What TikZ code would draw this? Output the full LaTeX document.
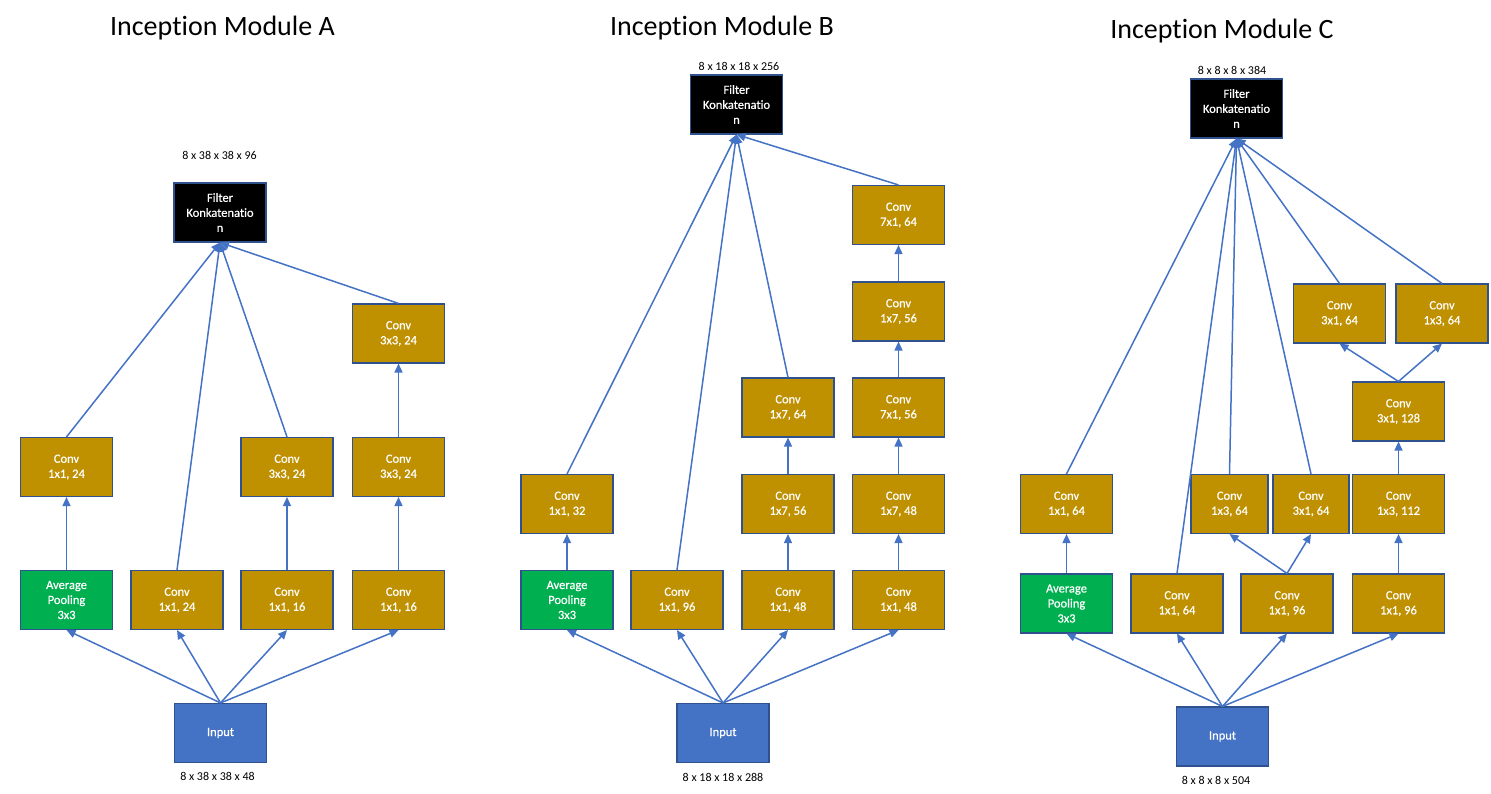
\documentclass[tikz,border=0pt]{standalone}
\usepackage{fontspec}
\setmainfont{Carlito}[Ligatures=NoCommon]
\newfontfamily\boxfont{Carlito}[Ligatures=NoCommon,FakeBold=0.5]
\usetikzlibrary{arrows.meta}
\definecolor{gold}{HTML}{BF9000}
\definecolor{poolgreen}{HTML}{00B050}
\definecolor{inpblue}{HTML}{4472C4}
\definecolor{boxborder}{HTML}{2F528F}
\definecolor{arrblue}{HTML}{4472C4}
\tikzset{
  box/.style={draw=boxborder, line width=1.1pt, minimum width=92pt, minimum height=59pt, inner sep=0pt, align=center, text=white, font=\boxfont\fontsize{12.5}{15}\selectfont},
  conv/.style={box, fill=gold},
  pool/.style={box, fill=poolgreen},
  inp/.style={box, fill=inpblue},
  cat/.style={box, fill=black},
  arr/.style={draw=arrblue, line width=1.5pt, -{Triangle[length=9pt,width=8pt]}},
  title/.style={anchor=base, font=\fontsize{28}{32}\selectfont, inner sep=0pt},
  dims/.style={font=\fontsize{12}{14}\selectfont, inner sep=0pt},
}
\begin{document}
\begin{tikzpicture}[x=1pt,y=-1pt]
\useasboundingbox (0,0) rectangle (1491,794);
% ================= Module A =================
\node[title] (tA) at (222.5,36) {Inception Module A};
\node[dims] (dAtop) at (219.5,155) {8 x 38 x 38 x 96};
\node[cat] (fA) at (220,212.5) {Filter\\Konkatenatio\\n};
\node[conv] (a33top) at (398.5,333.5) {Conv\\3x3, 24};
\node[conv] (a11b) at (66.5,467) {Conv\\1x1, 24};
\node[conv] (a33b) at (287,467) {Conv\\3x3, 24};
\node[conv] (a33c) at (398.5,467) {Conv\\3x3, 24};
\node[pool] (apool) at (66.5,600) {Average\\Pooling\\3x3};
\node[conv] (a11) at (177,600) {Conv\\1x1, 24};
\node[conv] (a16a) at (287,600) {Conv\\1x1, 16};
\node[conv] (a16b) at (398.5,600) {Conv\\1x1, 16};
\node[inp] (inA) at (220.5,733) {Input};
\node[dims] (dAbot) at (217.5,776) {8 x 38 x 38 x 48};
\foreach \t in {apool,a11,a16a,a16b} \draw[arr] (inA.north) -- (\t.south);
\draw[arr] (apool) -- (a11b);
\draw[arr] (a16a) -- (a33b);
\draw[arr] (a16b) -- (a33c);
\draw[arr] (a33c) -- (a33top);
\foreach \s in {a11b,a11,a33b,a33top} \draw[arr] (\s.north) -- (fA.south);
% ================= Module B =================
\node[title] (tB) at (722,36) {Inception Module B};
\node[dims] (dBtop) at (739,66) {8 x 18 x 18 x 256};
\node[cat] (fB) at (736.5,104.5) {Filter\\Konkatenatio\\n};
\node[conv] (b71top) at (898.5,215) {Conv\\7x1, 64};
\node[conv] (b17m) at (898.5,311.5) {Conv\\1x7, 56};
\node[conv] (b71m) at (898.5,407.5) {Conv\\7x1, 56};
\node[conv] (b17c) at (788,407.5) {Conv\\1x7, 64};
\node[conv] (b32) at (567,504) {Conv\\1x1, 32};
\node[conv] (b17b) at (788,504) {Conv\\1x7, 56};
\node[conv] (b17d) at (898.5,504) {Conv\\1x7, 48};
\node[pool] (bpool) at (567,600) {Average\\Pooling\\3x3};
\node[conv] (b96) at (677,600) {Conv\\1x1, 96};
\node[conv] (b48a) at (788,600) {Conv\\1x1, 48};
\node[conv] (b48b) at (898.5,600) {Conv\\1x1, 48};
\node[inp] (inB) at (723,733) {Input};
\node[dims] (dBbot) at (723,777) {8 x 18 x 18 x 288};
\foreach \t in {bpool,b96,b48a,b48b} \draw[arr] (inB.north) -- (\t.south);
\draw[arr] (bpool) -- (b32);
\draw[arr] (b48a) -- (b17b);
\draw[arr] (b17b) -- (b17c);
\draw[arr] (b48b) -- (b17d);
\draw[arr] (b17d) -- (b71m);
\draw[arr] (b71m) -- (b17m);
\draw[arr] (b17m) -- (b71top);
\foreach \s in {b32,b96,b17c,b71top} \draw[arr] (\s.north) -- (fB.south);
% ================= Module C =================
\node[title] (tC) at (1222,39) {Inception Module C};
\node[dims] (dCtop) at (1232,70) {8 x 8 x 8 x 384};
\node[cat] (fC) at (1236.5,108.5) {Filter\\Konkatenatio\\n};
\node[conv] (c31top) at (1339.5,313.5) {Conv\\3x1, 64};
\node[conv] (c13top) at (1442,313.5) {Conv\\1x3, 64};
\node[conv] (c128) at (1398.5,411.5) {Conv\\3x1, 128};
\node[conv] (c64) at (1066.5,504) {Conv\\1x1, 64};
\node[conv, minimum width=77pt] (c13) at (1229.5,504) {Conv\\1x3, 64};
\node[conv, minimum width=76pt] (c31) at (1311,504) {Conv\\3x1, 64};
\node[conv] (c112) at (1398.5,504) {Conv\\1x3, 112};
\node[pool] (cpool) at (1066.5,603.5) {Average\\Pooling\\3x3};
\node[conv] (c64b) at (1177,603.5) {Conv\\1x1, 64};
\node[conv] (c96a) at (1287,603.5) {Conv\\1x1, 96};
\node[conv] (c96b) at (1398.5,603.5) {Conv\\1x1, 96};
\node[inp] (inC) at (1222.5,736.5) {Input};
\node[dims] (dCbot) at (1216,780) {8 x 8 x 8 x 504};
\foreach \t in {cpool,c64b,c96a,c96b} \draw[arr] (inC.north) -- (\t.south);
\draw[arr] (cpool) -- (c64);
\draw[arr] (c96a.north) -- (c13.south);
\draw[arr] (c96a.north) -- (c31.south);
\draw[arr] (c96b) -- (c112);
\draw[arr] (c112) -- (c128);
\draw[arr] (c128.north) -- (c31top.south);
\draw[arr] (c128.north) -- (c13top.south);
\foreach \s in {c64,c64b,c13,c31,c31top,c13top} \draw[arr] (\s.north) -- (fC.south);
\end{tikzpicture}
\end{document}
